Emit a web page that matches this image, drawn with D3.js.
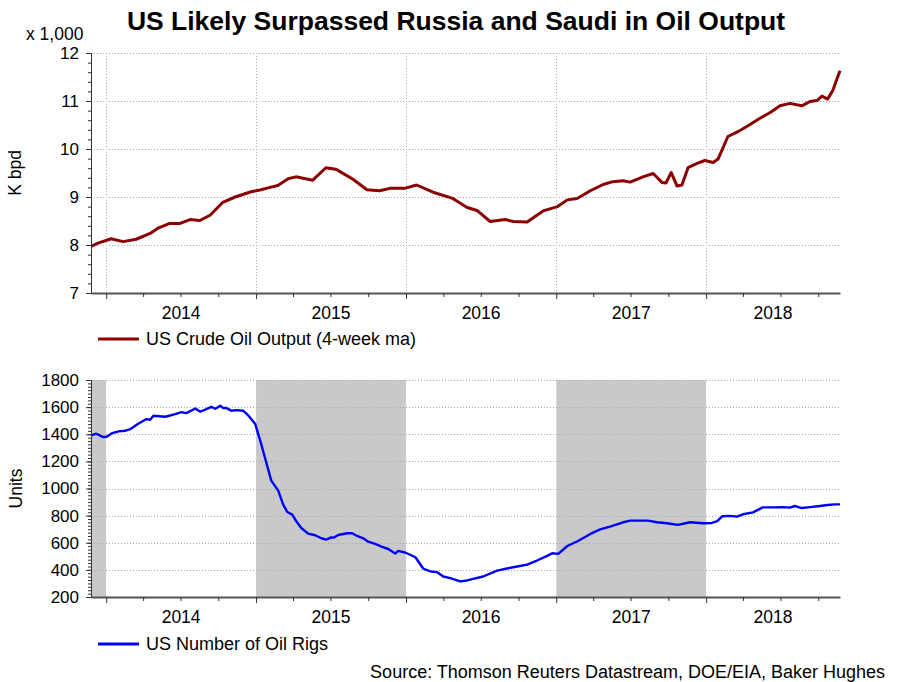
<!DOCTYPE html>
<html>
<head>
<meta charset="utf-8">
<script src="https://cdn.jsdelivr.net/npm/d3@7"></script>
<style>
  body {margin: 0; background: #fff;}
  svg {font-family: "Liberation Sans", Arial, sans-serif; display: block;}
</style>
</head>
<body>
<svg id="chart" width="909" height="682"></svg>
<script>
var xStart = '2013-11-25', xEnd = '2018-11-23'
var yearLabels = ['2014', '2015', '2016', '2017', '2018']

// US crude oil output, 4-week ma (thousand K bpd)
var outputDates = ['2013-11-25','2013-12-12','2014-01-13','2014-02-11','2014-03-15','2014-04-18','2014-05-07',
  '2014-06-05','2014-06-30','2014-07-24','2014-08-17','2014-09-11','2014-10-12','2014-11-11','2014-12-20',
  '2015-01-13','2015-01-30','2015-02-23','2015-03-20','2015-04-08','2015-05-19','2015-06-20','2015-07-14',
  '2015-08-25','2015-09-28','2015-10-29','2015-11-23','2015-12-29','2016-01-27','2016-03-07','2016-04-24',
  '2016-05-29','2016-06-22','2016-07-24','2016-08-30','2016-09-18','2016-10-22','2016-11-30','2017-01-04',
  '2017-01-28','2017-02-21','2017-03-25','2017-04-25','2017-05-19','2017-06-13','2017-06-30','2017-07-31',
  '2017-08-25','2017-09-16','2017-09-25','2017-10-08','2017-10-22','2017-11-03','2017-11-18','2017-12-10',
  '2017-12-29','2018-01-18','2018-01-30','2018-02-23','2018-03-17','2018-04-10','2018-05-12','2018-06-06',
  '2018-06-30','2018-07-24','2018-08-22','2018-09-11','2018-09-28','2018-10-10','2018-10-24','2018-11-06',
  '2018-11-13','2018-11-23']
var outputValues = [7.97,8.04,8.13,8.07,8.12,8.24,8.35,
  8.45,8.45,8.53,8.51,8.62,8.89,9.00,9.11,
  9.15,9.19,9.24,9.38,9.42,9.35,9.61,9.58,
  9.37,9.15,9.13,9.18,9.18,9.25,9.10,8.97,
  8.78,8.72,8.49,8.53,8.49,8.48,8.71,8.80,
  8.94,8.97,9.13,9.26,9.32,9.34,9.31,9.42,
  9.49,9.30,9.29,9.51,9.23,9.25,9.61,9.70,
  9.76,9.72,9.79,10.26,10.35,10.47,10.64,10.76,
  10.90,10.95,10.90,10.99,11.01,11.10,11.04,11.23,
  11.40,11.63]

// US number of oil rigs
var rigDates = ['2013-11-25','2013-12-08','2013-12-25','2014-01-02','2014-01-14','2014-01-31','2014-02-17',
  '2014-03-01','2014-03-20','2014-04-09','2014-04-18','2014-04-26','2014-05-25','2014-06-18','2014-07-03',
  '2014-07-15','2014-08-06','2014-08-18','2014-09-02','2014-09-14','2014-09-24','2014-10-06','2014-10-13',
  '2014-10-21','2014-11-02','2014-11-14','2014-12-01','2014-12-13','2014-12-30','2015-01-14','2015-01-24',
  '2015-02-07','2015-02-24','2015-03-08','2015-03-18','2015-03-30','2015-04-09','2015-04-21','2015-05-08',
  '2015-05-25','2015-06-09','2015-06-21','2015-07-03','2015-07-10','2015-07-20','2015-08-11','2015-08-23',
  '2015-09-04','2015-09-19','2015-10-01','2015-10-18','2015-11-04','2015-11-19','2015-12-06','2015-12-13',
  '2015-12-30','2016-01-24','2016-02-12','2016-03-01','2016-03-17','2016-04-01','2016-04-18','2016-05-12',
  '2016-05-29','2016-06-13','2016-07-07','2016-08-10','2016-09-03','2016-09-28','2016-10-22','2016-11-15',
  '2016-12-10','2016-12-22','2017-01-06','2017-01-28','2017-02-23','2017-03-25','2017-04-18','2017-05-12',
  '2017-06-13','2017-06-30','2017-08-12','2017-09-03','2017-09-28','2017-10-24','2017-11-23','2017-12-25',
  '2018-01-15','2018-01-28','2018-02-09','2018-02-28','2018-03-17','2018-04-01','2018-04-25','2018-05-19',
  '2018-06-13','2018-07-07','2018-07-24','2018-08-05','2018-08-22','2018-09-11','2018-10-05','2018-10-24',
  '2018-11-11','2018-11-23']
var rigValues = [1391,1404,1379,1382,1406,1421,1426,
  1438,1477,1512,1507,1536,1529,1548,1563,
  1556,1590,1566,1585,1602,1588,1610,1593,
  1593,1573,1578,1573,1539,1475,1323,1212,
  1058,984,881,827,807,758,709,667,
  655,633,623,640,638,657,670,670,
  650,633,608,591,569,554,520,540,
  528,493,410,388,383,351,339,315,
  322,334,351,395,410,425,439,469,
  503,523,518,576,613,665,698,719,
  751,763,763,751,744,732,751,744,
  746,759,795,798,793,810,824,861,
  861,863,859,871,856,863,871,878,
  883,883]

var shadeStarts = ['2013-11-25', '2015-01-01', '2017-01-01']
var shadeEnds = ['2014-01-01', '2016-01-01', '2018-01-01']

var outputTicks = [7, 8, 9, 10, 11, 12]
var rigTicks = [200, 400, 600, 800, 1000, 1200, 1400, 1600, 1800]

var parse = d3.utcParse('%Y-%m-%d')
var svg = d3.select('#chart')
var x = d3.scaleUtc().domain([parse(xStart), parse(xEnd)]).range([91, 840])

svg.append('text')
  .attr('x', 456).attr('y', 30)
  .attr('text-anchor', 'middle')
  .attr('font-size', 26.5).attr('font-weight', 700)
  .text('US Likely Surpassed Russia and Saudi in Oil Output')

function drawPanel(o){
  var g = svg.append('g')
  var y = d3.scaleLinear().domain(o.domain).range([o.bottom, o.top])

  if (o.shade){
    g.selectAll('rect.shade').data(shadeStarts).join('rect')
      .attr('x', (d, i) => x(parse(d)))
      .attr('width', (d, i) => x(parse(shadeEnds[i])) - x(parse(d)))
      .attr('y', o.top).attr('height', o.bottom - o.top)
      .attr('fill', '#c9c9c9')
  }

  // dotted grid
  g.selectAll('line.hgrid').data(o.ticks.slice(1)).join('line')
    .attr('x1', 91).attr('x2', 840)
    .attr('y1', d => Math.round(y(d)) + .5).attr('y2', d => Math.round(y(d)) + .5)
    .attr('stroke', '#a8a8a8').attr('stroke-dasharray', '1,2')
  if (o.vgrid){
    g.selectAll('line.vgrid').data(x.ticks(d3.utcYear)).join('line')
      .attr('x1', d => Math.round(x(d)) + .5).attr('x2', d => Math.round(x(d)) + .5)
      .attr('y1', o.top).attr('y2', o.bottom)
      .attr('stroke', '#a8a8a8').attr('stroke-dasharray', '1,2')
  }

  var line = d3.line()
    .x((d, i) => x(parse(o.dates[i])))
    .y(d => y(d))
  g.append('path').datum(o.values)
    .attr('d', line)
    .attr('fill', 'none').attr('stroke', o.color)
    .attr('stroke-width', o.width).attr('stroke-linejoin', 'round')

  // y axis, major + minor ticks
  var yAxis = g.append('g').attr('transform', 'translate(91,0)')
    .call(d3.axisLeft(y).tickValues(o.ticks).tickSize(5).tickPadding(7).tickFormat(d3.format('d')))
  yAxis.selectAll('text').attr('font-size', 17).attr('fill', '#000').attr('font-family', null)
  g.append('g').attr('transform', 'translate(91,0)')
    .call(d3.axisLeft(y).tickValues(d3.range(o.domain[0], o.domain[1] + o.minor / 2, o.minor)).tickSize(3).tickFormat(''))
  g.selectAll('.domain').attr('stroke', '#333')
  g.selectAll('.tick line').attr('stroke', '#333')

  // x axis
  var xg = g.append('g').attr('transform', 'translate(0,' + o.bottom + ')')
  xg.call(d3.axisBottom(x).ticks(d3.utcMonth.every(3)).tickSize(4).tickSizeOuter(0).tickFormat(''))
  xg.selectAll('.tick line').attr('stroke', '#333')
  xg.select('.domain').attr('stroke', '#555').attr('stroke-width', 2)
  xg.selectAll('.tick').filter(d => d.getUTCMonth() == 0).select('line').attr('y2', 6)

  g.selectAll('text.year').data(yearLabels).join('text')
    .attr('x', d => {
      var a = d3.max([parse(d + '-01-01'), x.domain()[0]])
      var b = d3.min([parse((+d + 1) + '-01-01'), x.domain()[1]])
      return (x(a) + x(b)) / 2
    })
    .attr('y', o.bottom + 26)
    .attr('text-anchor', 'middle').attr('font-size', 17.5)
    .text(d => d)

  g.append('text')
    .attr('transform', 'translate(' + o.labelX + ',' + (o.top + o.bottom) / 2 + ') rotate(-90)')
    .attr('text-anchor', 'middle').attr('font-size', 17.5)
    .text(o.label)

  // legend
  g.append('line')
    .attr('x1', 98).attr('x2', 139).attr('y1', o.legendY).attr('y2', o.legendY)
    .attr('stroke', o.color).attr('stroke-width', 3)
  g.append('text')
    .attr('x', 146).attr('y', o.legendY + 6)
    .attr('font-size', 18)
    .text(o.legendText)
}

drawPanel({
  top: 53, bottom: 293, domain: [7, 12], ticks: outputTicks, minor: 0.2,
  dates: outputDates, values: outputValues, color: '#8b0000', width: 3,
  vgrid: true, shade: false, label: 'K bpd', labelX: 21,
  legendY: 339, legendText: 'US Crude Oil Output (4-week ma)'
})

drawPanel({
  top: 380, bottom: 597, domain: [200, 1800], ticks: rigTicks, minor: 25,
  dates: rigDates, values: rigValues, color: '#0000ff', width: 2.4,
  vgrid: false, shade: true, label: 'Units', labelX: 22,
  legendY: 644, legendText: 'US Number of Oil Rigs'
})

svg.append('text')
  .attr('x', 26).attr('y', 39.5)
  .attr('font-size', 17.5)
  .text('x 1,000')

svg.append('text')
  .attr('x', 885).attr('y', 678)
  .attr('text-anchor', 'end').attr('font-size', 18)
  .text('Source: Thomson Reuters Datastream, DOE/EIA, Baker Hughes')
</script>
</body>
</html>
